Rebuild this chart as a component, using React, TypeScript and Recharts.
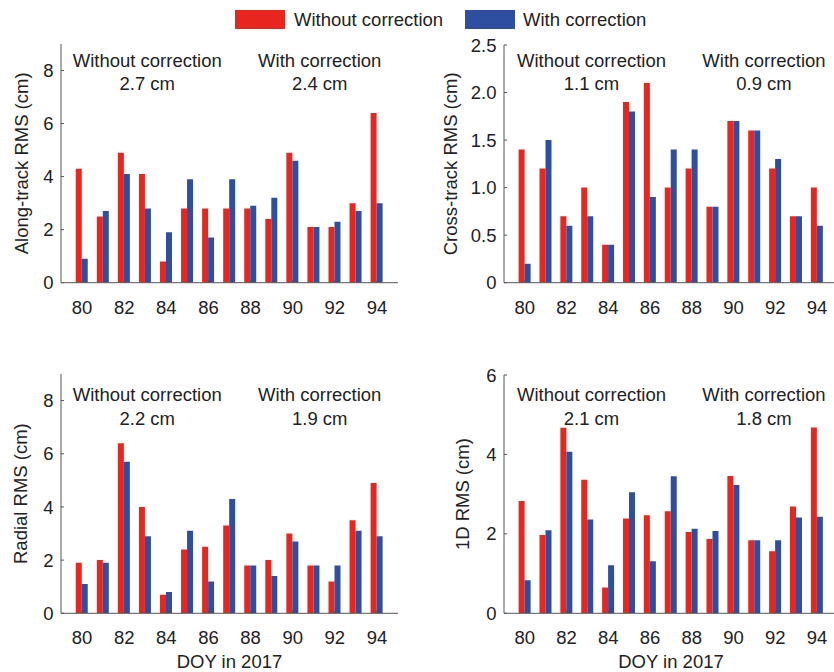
import React from 'react';
import { BarChart, Bar, XAxis, YAxis, ReferenceDot, Label } from 'recharts';

// Days of year 2017 and per-day RMS values (cm)
const days = [80, 81, 82, 83, 84, 85, 86, 87, 88, 89, 90, 91, 92, 93, 94];

const alongWithout = [4.3, 2.5, 4.9, 4.1, 0.8, 2.8, 2.8, 2.8, 2.8, 2.4, 4.9, 2.1, 2.1, 3.0, 6.4];
const alongWith = [0.9, 2.7, 4.1, 2.8, 1.9, 3.9, 1.7, 3.9, 2.9, 3.2, 4.6, 2.1, 2.3, 2.7, 3.0];

const crossWithout = [1.4, 1.2, 0.7, 1.0, 0.4, 1.9, 2.1, 1.0, 1.2, 0.8, 1.7, 1.6, 1.2, 0.7, 1.0];
const crossWith = [0.2, 1.5, 0.6, 0.7, 0.4, 1.8, 0.9, 1.4, 1.4, 0.8, 1.7, 1.6, 1.3, 0.7, 0.6];

const radialWithout = [1.9, 2.0, 6.4, 4.0, 0.7, 2.4, 2.5, 3.3, 1.8, 2.0, 3.0, 1.8, 1.2, 3.5, 4.9];
const radialWith = [1.1, 1.9, 5.7, 2.9, 0.8, 3.1, 1.2, 4.3, 1.8, 1.4, 2.7, 1.8, 1.8, 3.1, 2.9];

const oneDWithout = [2.83, 1.97, 4.67, 3.36, 0.65, 2.39, 2.47, 2.57, 2.05, 1.87, 3.46, 1.84, 1.56, 2.69, 4.68];
const oneDWith = [0.83, 2.09, 4.07, 2.36, 1.21, 3.05, 1.31, 3.45, 2.13, 2.07, 3.23, 1.84, 1.84, 2.41, 2.43];

// overall RMS per component: [without, with]
const rmsAlong = [2.7, 2.4];
const rmsCross = [1.1, 0.9];
const rmsRadial = [2.2, 1.9];
const rms1D = [2.1, 1.8];

const seriesNames = ['Without correction', 'With correction'];

const RED = '#E8261F';
const BLUE = '#2E4F9F';
const AXIS = '#555';
const TEXT = '#222';
const FONT = '"Liberation Sans", Arial, Helvetica, sans-serif';
const FS = 18.5;

const YW = 70;
const XH = 60;
const TOP = 15;
const RIGHT = 12;

const YTitle = ({ viewBox, text, gap }: any) => {
  const cx = viewBox.x + viewBox.width - gap;
  const cy = viewBox.y + viewBox.height / 2;
  return (
    <text x={cx} y={cy} transform={`rotate(-90, ${cx}, ${cy})`} textAnchor="middle"
      dominantBaseline="central" fill={TEXT} fontSize={FS} fontFamily={FONT}>
      {text}
    </text>
  );
};

const XTitle = ({ viewBox, text }: any) => (
  <text x={viewBox.x + viewBox.width / 2} y={viewBox.y + 48.5} textAnchor="middle"
    dominantBaseline="central" fill={TEXT} fontSize={FS} fontFamily={FONT}>
    {text}
  </text>
);

const Note = ({ viewBox, lines, dx, dys }: any) => (
  <g>
    {lines.map((line: string, i: number) => (
      <text key={i} x={viewBox.x + dx} y={viewBox.y + dys[i]} textAnchor="middle"
        dominantBaseline="central" fill={TEXT} fontSize={FS} fontFamily={FONT}>
        {line}
      </text>
    ))}
  </g>
);

type PanelProps = {
  without: number[];
  withCorr: number[];
  rms: number[];
  title: string;
  titleGap: number;
  box: { l: number; t: number; w: number; h: number };
  domain: [number, number];
  ticks: number[];
  fmt: (v: number) => string;
  noteDx: [number, number];
  noteDy: [number, number];
  xTitle?: string;
};

function Panel({ without, withCorr, rms, title, titleGap, box, domain, ticks, fmt, noteDx, noteDy, xTitle }: PanelProps) {
  const rows = days.map((day, i) => ({ day, without: without[i], withCorr: withCorr[i] }));
  const pad = box.w / 32;
  const tickStyle = { fill: TEXT, fontSize: FS, fontFamily: FONT };
  return (
    <div style={{ position: 'absolute', left: box.l - YW, top: box.t - TOP }}>
      <BarChart
        width={YW + box.w + RIGHT}
        height={TOP + box.h + XH}
        data={rows}
        margin={{ top: TOP, right: RIGHT, bottom: 0, left: 0 }}
        barCategoryGap="20%"
        barGap={0}
      >
        <XAxis dataKey="day" height={XH} interval={1} padding={{ left: pad, right: pad }}
          tickSize={-3} tickMargin={21} tick={tickStyle}
          axisLine={{ stroke: AXIS }} tickLine={{ stroke: AXIS }}>
          {xTitle && <Label content={<XTitle text={xTitle} />} />}
        </XAxis>
        <XAxis xAxisId="top" orientation="top" dataKey="day" height={0} interval={1}
          padding={{ left: pad, right: pad }} tickSize={-3} tickFormatter={() => ''}
          axisLine={{ stroke: AXIS }} tickLine={{ stroke: AXIS }} />
        <YAxis type="number" width={YW} domain={domain} ticks={ticks} allowDataOverflow
          tickSize={-3} tickMargin={10.5} tickFormatter={fmt} tick={tickStyle}
          axisLine={{ stroke: AXIS }} tickLine={{ stroke: AXIS }}>
          <Label content={<YTitle text={title} gap={titleGap} />} />
        </YAxis>
        <YAxis yAxisId="right" orientation="right" type="number" width={0} domain={domain}
          ticks={ticks} allowDataOverflow tickSize={-3} tickFormatter={() => ''}
          axisLine={{ stroke: AXIS }} tickLine={{ stroke: AXIS }} />
        <Bar dataKey="without" name={seriesNames[0]} fill={RED} isAnimationActive={false} />
        <Bar dataKey="withCorr" name={seriesNames[1]} fill={BLUE} isAnimationActive={false} />
        <ReferenceDot x={83} y={domain[1]} r={0} fill="none" stroke="none" ifOverflow="visible"
          label={<Note lines={[seriesNames[0], `${rms[0]} cm`]} dx={noteDx[0]} dys={noteDy} />} />
        <ReferenceDot x={91} y={domain[1]} r={0} fill="none" stroke="none" ifOverflow="visible"
          label={<Note lines={[seriesNames[1], `${rms[1]} cm`]} dx={noteDx[1]} dys={noteDy} />} />
      </BarChart>
    </div>
  );
}

const intFmt = (v: number) => String(v);
const decFmt = (v: number) => (v === 0 ? '0' : v.toFixed(1));

export default function App() {
  return (
    <div style={{ position: 'absolute', left: 0, top: 0, width: 834, height: 672, overflow: 'hidden',
      background: '#fff', fontFamily: FONT }}>
      {/* shared legend */}
      <div style={{ position: 'absolute', left: 235, top: 10, height: 19, display: 'flex',
        alignItems: 'center', fontSize: FS, color: TEXT, whiteSpace: 'nowrap' }}>
        <span style={{ width: 50, height: 19, background: RED, display: 'inline-block' }} />
        <span style={{ marginLeft: 9, width: 171 }}>{seriesNames[0]}</span>
        <span style={{ width: 50, height: 19, background: BLUE, display: 'inline-block' }} />
        <span style={{ marginLeft: 8 }}>{seriesNames[1]}</span>
      </div>

      <Panel without={alongWithout} withCorr={alongWith} rms={rmsAlong}
        title="Along-track RMS (cm)" titleGap={40}
        box={{ l: 60.7, t: 44, w: 337, h: 238.7 }}
        domain={[0, 9]} ticks={[0, 2, 4, 6, 8]} fmt={intFmt}
        noteDx={[2, 6]} noteDy={[17, 39.3]} />

      <Panel without={crossWithout} withCorr={crossWith} rms={rmsCross}
        title="Cross-track RMS (cm)" titleGap={54}
        box={{ l: 504.3, t: 45, w: 334, h: 237.7 }}
        domain={[0, 2.5]} ticks={[0, 0.5, 1, 1.5, 2, 2.5]} fmt={decFmt}
        noteDx={[4, 9.5]} noteDy={[16, 38.3]} />

      <Panel without={radialWithout} withCorr={radialWith} rms={rmsRadial}
        title="Radial RMS (cm)" titleGap={40}
        box={{ l: 60.7, t: 374, w: 337, h: 239.3 }}
        domain={[0, 9]} ticks={[0, 2, 4, 6, 8]} fmt={intFmt}
        noteDx={[2, 6]} noteDy={[21, 44.3]} xTitle="DOY in 2017" />

      <Panel without={oneDWithout} withCorr={oneDWith} rms={rms1D}
        title="1D RMS (cm)" titleGap={41}
        box={{ l: 504.3, t: 375, w: 334, h: 238.3 }}
        domain={[0, 6]} ticks={[0, 2, 4, 6]} fmt={intFmt}
        noteDx={[4, 9.5]} noteDy={[20, 43.3]} xTitle="DOY in 2017" />
    </div>
  );
}
